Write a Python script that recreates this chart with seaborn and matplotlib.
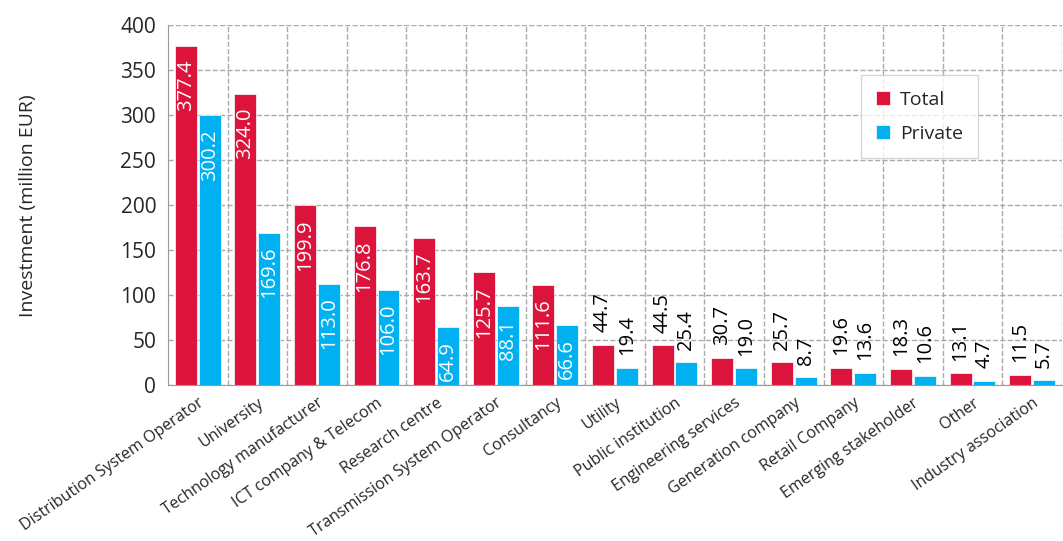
import numpy as np
import pandas as pd
import seaborn as sns
import matplotlib.pyplot as plt

categories = [
    "Distribution System Operator", "University", "Technology manufacturer",
    "ICT company & Telecom", "Research centre", "Transmission System Operator",
    "Consultancy", "Utility", "Public institution", "Engineering services",
    "Generation company", "Retail Company", "Emerging stakeholder", "Other",
    "Industry association",
]
total = [377.4, 324.0, 199.9, 176.8, 163.7, 125.7, 111.6, 44.7, 44.5, 30.7,
         25.7, 19.6, 18.3, 13.1, 11.5]
private = [300.2, 169.6, 113.0, 106.0, 64.9, 88.1, 66.6, 19.4, 25.4, 19.0,
           8.7, 13.6, 10.6, 4.7, 5.7]

df = pd.DataFrame({
    "category": categories * 2,
    "value": total + private,
    "series": ["Total"] * len(total) + ["Private"] * len(private),
})

sns.set_style("white")
plt.rcParams["font.family"] = ["Open Sans", "DejaVu Sans"]

fig, ax = plt.subplots(figsize=(10.63, 5.41), dpi=100)
fig.subplots_adjust(left=0.158, right=0.999, top=0.953, bottom=0.288)

sns.barplot(
    data=df, x="category", y="value", hue="series",
    palette={"Total": "#DC143C", "Private": "#00B0F0"}, saturation=1,
    width=0.8, gap=0.08, ax=ax, edgecolor="white", linewidth=0.5,
)

n = len(categories)
ax.set_xlim(-0.5, n - 0.5)
ax.set_ylim(0, 400)
ax.set_yticks(np.arange(0, 401, 50))
ax.set_xticks(np.arange(n) + 0.5, minor=True)
ax.tick_params(axis="x", which="major", length=0, pad=7)
ax.tick_params(axis="x", which="minor", length=5, color="#999999")
ax.tick_params(axis="y", length=5, color="#999999", labelsize=15)
ax.set_xticklabels(categories, rotation=35, ha="right", rotation_mode="anchor",
                   fontsize=11.5)
ax.grid(True, axis="y", which="major", linestyle="--", color="#aaaaaa", linewidth=1)
ax.grid(True, axis="x", which="minor", linestyle="--", color="#aaaaaa", linewidth=1)
ax.set_axisbelow(True)
for s in ["top", "right"]:
    ax.spines[s].set_visible(False)
for s in ["left", "bottom"]:
    ax.spines[s].set_color("#999999")
ax.set_xlabel("")
ax.set_ylabel("Investment (million EUR)", fontsize=14, labelpad=60)

for cont in ax.containers:
    for bar in cont:
        h = bar.get_height()
        xc = bar.get_x() + bar.get_width() / 2
        if h > 60:
            ax.annotate(f"{h:.1f}", (xc, h), xytext=(0, -10),
                        textcoords="offset points", rotation=90, ha="center",
                        va="top", color="white", fontsize=14.5)
        else:
            ax.annotate(f"{h:.1f}", (xc, h), xytext=(0, 9),
                        textcoords="offset points", rotation=90, ha="center",
                        va="bottom", color="black", fontsize=14.5)

ax.legend(title=None, loc="upper left", bbox_to_anchor=(0.775, 0.861),
          borderaxespad=0, fontsize=14, frameon=True, edgecolor="#cccccc",
          fancybox=False, handlelength=0.7, handleheight=0.7, borderpad=0.8,
          labelspacing=0.8, handletextpad=0.5)

fig.savefig("out.png", dpi=100)
